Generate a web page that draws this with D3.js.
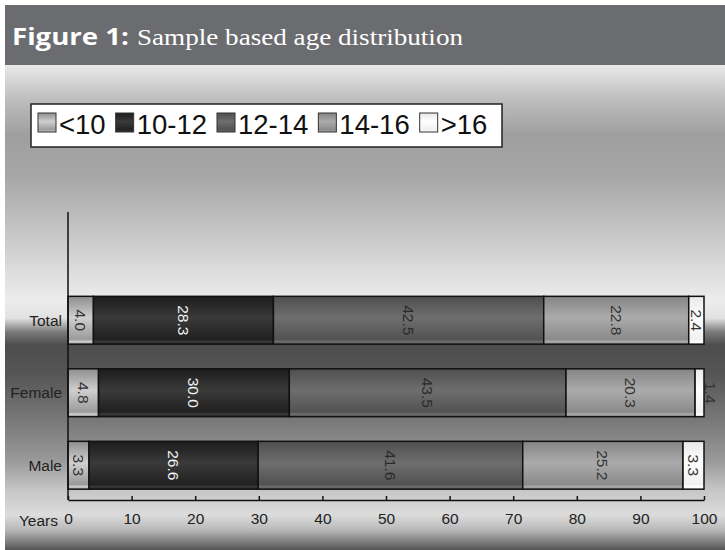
<!DOCTYPE html>
<html><head><meta charset="utf-8">
<script src="https://cdn.jsdelivr.net/npm/d3@7"></script>
<style>body{margin:0;background:#fff}svg{display:block}</style>
</head><body>
<script>
const categories = ["Total", "Female", "Male"];
const groups = ["<10", "10-12", "12-14", "14-16", ">16"];
const lt10   = [4.0, 4.8, 3.3];
const g10_12 = [28.3, 30.0, 26.6];
const g12_14 = [42.5, 43.5, 41.6];
const g14_16 = [22.8, 20.3, 25.2];
const gt16   = [2.4, 1.4, 3.3];
const xTicks = [0, 10, 20, 30, 40, 50, 60, 70, 80, 90, 100];
const xAxisTitle = "Years";
const titleBold = "Figure 1:";
const titleRest = "Sample based age distribution";

const seriesValues = [lt10, g10_12, g12_14, g14_16, gt16];
const W = 725, H = 550;
const svg = d3.select("body").append("svg").attr("width", W).attr("height", H);
const defs = svg.append("defs");

// background gradient (metallic)
const bg = defs.append("linearGradient").attr("id", "bg")
  .attr("gradientUnits", "userSpaceOnUse").attr("x1", 0).attr("y1", 66).attr("x2", 0).attr("y2", 550);
[[66,"#e8e8e8"],[100,"#bdbdbd"],[135,"#9f9f9f"],[175,"#a6a6a6"],[225,"#c2c2c2"],[270,"#dcdcdc"],
 [300,"#ececec"],[318,"#e2e2e2"],[332,"#7a7a7a"],[345,"#4d4d4d"],[375,"#565656"],[420,"#787878"],
 [460,"#999"],[490,"#c6c6c6"],[515,"#dcdcdc"],[530,"#b8b8b8"],[550,"#555"]]
 .forEach(([y,c]) => bg.append("stop").attr("offset", ((y-66)/(550-66))).attr("stop-color", c));

// segment gradients
const segCols = [
  ["#8e8e8e","#cfcfcf","#9a9a9a"],
  ["#1c1c1c","#3a3a3a","#202020"],
  ["#4f4f4f","#6e6e6e","#525252"],
  ["#858585","#ababab","#8a8a8a"],
  ["#e8e8e8","#ffffff","#f0f0f0"]
];
segCols.forEach((c,i) => {
  const g = defs.append("linearGradient").attr("id","seg"+i).attr("x1",0).attr("y1",0).attr("x2",0).attr("y2",1);
  g.append("stop").attr("offset",0).attr("stop-color",c[0]);
  g.append("stop").attr("offset",0.45).attr("stop-color",c[1]);
  g.append("stop").attr("offset",0.9).attr("stop-color",c[2]);
  g.append("stop").attr("offset",0.95).attr("stop-color",c[1]);
  g.append("stop").attr("offset",1).attr("stop-color",c[2]);
});
const labelCols = ["#333","#f2f2f2","#2a2a2a","#333","#333"];

// title banner
svg.append("rect").attr("x",5).attr("y",5).attr("width",720).attr("height",60).attr("fill","#6b6c70");
svg.append("rect").attr("x",5).attr("y",65).attr("width",720).attr("height",485).attr("fill","url(#bg)");
svg.append("text").attr("x",12).attr("y",45).attr("fill","#fff")
  .attr("font-family","Open Sans, Liberation Sans, sans-serif").attr("font-weight","bold").attr("font-size",24)
  .attr("textLength",117).attr("lengthAdjust","spacingAndGlyphs").text(titleBold);
svg.append("text").attr("x",137).attr("y",45).attr("fill","#fff")
  .attr("font-family","Liberation Serif, DejaVu Serif, serif").attr("font-size",24)
  .attr("textLength",326).attr("lengthAdjust","spacingAndGlyphs").text(titleRest);

// scales
const x = d3.scaleLinear().domain([0,100]).range([68,704]);
const y = d3.scaleBand().domain(categories).range([284,501.5]).paddingInner(0.34).paddingOuter(0.17);

const stacked = categories.map((c,ci) => {
  let acc = 0;
  return groups.map((g,gi) => {
    const v = seriesValues[gi][ci];
    const s = {cat:c, gi, v, x0:acc, x1:acc+v};
    acc += v; return s;
  });
}).flat();

const font = "Liberation Sans, Arial, sans-serif";

// bars
svg.append("g").selectAll("rect").data(stacked).join("rect")
  .attr("x", d => x(d.x0)).attr("y", d => y(d.cat))
  .attr("width", d => x(d.x1)-x(d.x0)).attr("height", y.bandwidth())
  .attr("fill", d => `url(#seg${d.gi})`).attr("stroke","#111").attr("stroke-width",1.5);

// bar labels
svg.append("g").selectAll("text").data(stacked).join("text")
  .attr("transform", d => {
    const w = x(d.x1)-x(d.x0);
    const cx = w < 10 ? x(d.x1) + 6 : (x(d.x0)+x(d.x1))/2;
    return `translate(${cx},${y(d.cat)+y.bandwidth()/2}) rotate(90)`;
  })
  .attr("text-anchor","middle").attr("dy","0.35em")
  .attr("font-family",font).attr("font-size",15.5)
  .attr("fill", d => labelCols[d.gi]).text(d => d.v.toFixed(1));

// y axis line
svg.append("line").attr("x1",68).attr("x2",68).attr("y1",212).attr("y2",500).attr("stroke","#111").attr("stroke-width",1.5);
svg.append("g").selectAll("text").data(categories).join("text")
  .attr("x",62).attr("y", d => y(d)+y.bandwidth()/2).attr("dy","0.35em")
  .attr("text-anchor","end").attr("font-family",font).attr("font-size",15.5).attr("fill","#222").text(d=>d);

// x axis
const xa = svg.append("g").attr("transform","translate(0,500)")
  .call(d3.axisBottom(x).tickValues(xTicks).tickSizeInner(-4).tickSizeOuter(0).tickPadding(13).tickFormat(d3.format("d")));
xa.select(".domain").attr("stroke","#111").attr("stroke-width",1.5);
xa.selectAll(".tick line").attr("stroke","#111").attr("stroke-width",1.5);
xa.selectAll("text").attr("font-family",font).attr("font-size",15.5).attr("fill","#222");
svg.append("text").attr("x",58).attr("y",526).attr("text-anchor","end")
  .attr("font-family",font).attr("font-size",15.5).attr("fill","#222").text(xAxisTitle);

// legend
const lg = svg.append("g");
lg.append("rect").attr("x",31).attr("y",104).attr("width",471).attr("height",43)
  .attr("fill","#fff").attr("stroke","#222").attr("stroke-width",1.5);
let lx = 38;
groups.forEach((g,i) => {
  lg.append("rect").attr("x",lx).attr("y",113).attr("width",18).attr("height",19)
    .attr("fill",`url(#seg${i})`).attr("stroke","#333").attr("stroke-width",1);
  const tx = lg.append("text").attr("x",lx+21).attr("y",134).attr("font-family",font)
    .attr("font-size",27.5).attr("fill","#111").text(g);
  lx = lx + 21 + tx.node().getComputedTextLength() + 10;
});
</script>
</body></html>
